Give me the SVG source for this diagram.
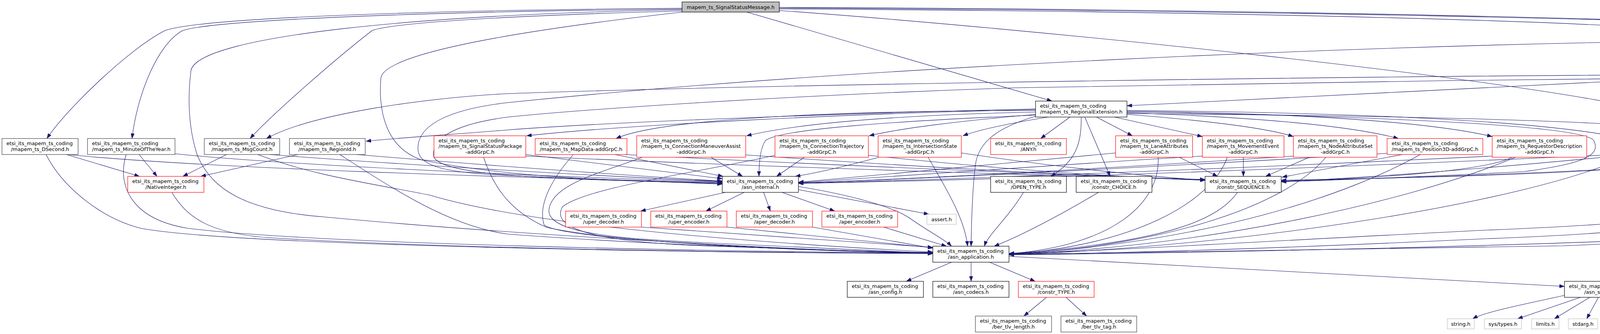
<svg xmlns="http://www.w3.org/2000/svg" width="5065" height="856" viewBox="0 0 5065 856">
<style>
text{font-family:"DejaVu Sans","Liberation Sans",sans-serif;font-size:13px;fill:#000}
.m{text-anchor:middle}
rect{fill:#fff;stroke-width:1.2}
.b{stroke:#000}
.r{stroke:#ff0000}
.g{stroke:#404040}
.l{stroke:#bfbfbf}
.root{fill:#bfbfbf;stroke:#000}
#edges path{fill:none;stroke:#191970;stroke-width:1.1;marker-end:url(#a)}
</style>
<defs>
<marker id="a" viewBox="0 0 13 9.4" refX="13" refY="4.7" markerWidth="13" markerHeight="9.4" markerUnits="userSpaceOnUse" orient="auto">
<path d="M0,0 L13,4.7 L0,9.4 z" fill="#191970" stroke="#191970" stroke-width="0.5"/>
</marker>
</defs>
<rect x="0" y="0" width="5065" height="856" style="fill:#fff;stroke:none"/>
<g id="edges">
<path d="M1746,21 C1100,26 520,45 423,78 C330,125 170,280 120,355"/>
<path d="M1746,23 C1100,30 560,50 468,78 C400,115 350,250 338,355"/>
<path d="M1746,25 C1100,36 510,90 489,180 C480,250 482,330 506,400 C540,480 620,540 830,556 C1300,600 2000,640 2388,650"/>
<path d="M1746,28 C1300,40 1010,58 953,78 C860,150 700,290 640,355"/>
<path d="M1746,31 C1400,70 985,130 975,200 C968,290 990,380 1080,410 C1300,455 1600,465 1849,470"/>
<path d="M1912,31 L2693,259"/>
<path d="M1995,23 C3000,28 4100,50 4440,88"/>
<path d="M1995,19 C3000,22 4500,48 4663,78 C4720,110 4738,200 4741,259"/>
<path d="M1995,21 C3000,24 4600,52 4703,80 C4800,130 4900,210 4937,259"/>
<path d="M1995,27 C2600,70 3900,200 4250,290 C4410,335 4420,400 4300,420 C4000,450 3500,458 3280,462"/>
<path d="M4532,121 L4494,169"/>
<path d="M4572,121 L4716,259"/>
<path d="M4595,121 L4913,259"/>
<path d="M4590,121 C4605,220 4610,330 4609,440 C4608,540 4400,590 3800,612 C3200,640 2800,650 2583,652"/>
<path d="M4440,103 C3500,115 2200,170 1300,263 C1150,280 1070,320 1070,380 C1070,430 1150,442 1300,450 C1600,463 1750,468 1849,472"/>
<path d="M4377,196 C4000,215 3300,250 2885,271"/>
<path d="M4377,191 C3500,195 2000,215 1300,240 C1100,250 800,290 682,355"/>
<path d="M4534,210 L4683,259"/>
<path d="M4572,209 L4865,262"/>
<path d="M4478,210 C4480,300 4470,390 4400,410 C4200,440 3500,458 3280,464"/>
<path d="M4490,210 C4540,300 4558,380 4558,470 C4558,540 4300,570 3800,590 C3200,620 2800,645 2583,650"/>
<path d="M4377,199 C3800,205 3000,215 2600,225 C2000,245 1500,280 1300,300 C1150,320 1105,360 1110,400 C1120,440 1300,452 1500,460 C1700,466 1800,469 1849,469"/>
<path d="M2651,279 C2200,290 1600,310 1300,333 C1150,345 1000,355 937,362"/>
<path d="M2651,281 C2200,290 1600,320 1348,348"/>
<path d="M2651,283 C2200,284 1700,300 1577,355"/>
<path d="M2651,287 C2300,295 2050,315 1911,348"/>
<path d="M2655,293 C2450,310 2300,330 2225,348"/>
<path d="M2683,300 C2560,320 2500,335 2465,348"/>
<path d="M2739,300 L2664,355"/>
<path d="M2768,300 C2768,360 2760,410 2690,452"/>
<path d="M2777,300 L2842,452"/>
<path d="M2807,300 L2899,348"/>
<path d="M2853,300 L3078,350"/>
<path d="M2885,293 C3100,310 3250,330 3311,350"/>
<path d="M2885,289 C3200,300 3450,320 3580,355"/>
<path d="M2885,285 C3300,290 3650,310 3820,350"/>
<path d="M2885,283 C3400,288 3900,305 4137,350"/>
<path d="M2885,291 C3600,296 4300,312 4370,345 C4430,380 4435,500 4417,631"/>
<path d="M2885,287 C3500,297 4050,320 4080,360 C4100,400 4050,420 3900,440 C3600,455 3400,462 3280,466"/>
<path d="M2651,295 C2300,310 2000,330 1960,360 C1945,380 1943,420 1943,452"/>
<path d="M2651,298 C2560,325 2505,360 2497,423 C2490,480 2487,560 2486,631"/>
<path d="M170,396 L357,452"/>
<path d="M118,396 C160,480 260,560 360,585 C600,630 1800,648 2388,650"/>
<path d="M174,396 C500,430 1300,455 1849,468"/>
<path d="M356,396 L402,452"/>
<path d="M323,396 C300,470 330,560 480,585 C800,625 1800,645 2388,648"/>
<path d="M448,394 C700,420 1300,450 1849,466"/>
<path d="M580,396 L468,452"/>
<path d="M660,396 C800,450 950,470 1100,500 C1300,560 1700,610 2388,646"/>
<path d="M690,396 C1000,420 1500,450 1849,465"/>
<path d="M763,396 L514,452"/>
<path d="M870,396 C1000,480 1150,580 1300,600 C1700,630 2200,645 2388,647"/>
<path d="M912,396 C1200,420 1600,450 1849,464"/>
<path d="M440,493 C480,560 540,600 700,610 C1200,640 2000,648 2388,649"/>
<path d="M1346,396 C1550,420 1750,445 1849,458"/>
<path d="M1238,403 C1260,470 1300,540 1400,583 C1600,625 2100,645 2388,648"/>
<path d="M1346,400 C2000,430 2700,450 3085,460"/>
<path d="M1574,396 L1851,452"/>
<path d="M1467,397 C1420,450 1375,520 1393,577 C1450,615 2000,640 2388,648"/>
<path d="M1600,396 C2200,428 2800,450 3085,461"/>
<path d="M1820,403 L1901,452"/>
<path d="M1644,403 C1550,440 1410,470 1405,540 C1405,600 1600,612 1800,622 C2100,636 2300,645 2388,649"/>
<path d="M1909,397 C2400,432 2850,453 3085,462"/>
<path d="M2059,403 L1988,452"/>
<path d="M1984,398 C1800,440 1500,480 1440,530 C1400,600 1600,622 1800,630 C2100,641 2300,648 2388,650"/>
<path d="M2223,398 C2600,438 2900,455 3085,462"/>
<path d="M2250,403 C2150,430 2080,445 2036,452"/>
<path d="M2376,403 C2420,480 2470,560 2477,631"/>
<path d="M2461,392 C2700,428 2950,453 3085,462"/>
<path d="M2856,392 C2600,415 2300,445 2044,467"/>
<path d="M2965,403 C2970,520 2850,630 2583,650"/>
<path d="M3019,403 L3117,452"/>
<path d="M3078,400 C2700,422 2300,452 2044,468"/>
<path d="M3142,403 C3100,520 2900,630 2583,651"/>
<path d="M3183,403 L3183,452"/>
<path d="M3311,400 C2900,427 2400,456 2044,469"/>
<path d="M3394,403 C3300,520 3000,630 2583,651"/>
<path d="M3352,403 L3240,452"/>
<path d="M3551,393 C3000,425 2400,457 2044,469"/>
<path d="M3636,396 C3450,500 3100,620 2583,652"/>
<path d="M3590,396 L3282,454"/>
<path d="M3820,400 C3200,430 2500,458 2044,470"/>
<path d="M3880,403 C3600,520 3100,630 2583,652"/>
<path d="M3871,403 C3800,440 3500,458 3280,464"/>
<path d="M4137,396 C3400,430 2600,460 2044,470"/>
<path d="M4161,403 C3900,520 3200,630 2583,653"/>
<path d="M4137,400 C3800,432 3500,456 3280,465"/>
<path d="M3168,493 C3120,560 3000,620 2583,650"/>
<path d="M2620,493 C2580,560 2530,600 2520,631"/>
<path d="M2812,493 C2700,560 2600,610 2545,631"/>
<path d="M4754,300 L4780,355"/>
<path d="M4722,300 C4680,360 4667,450 4667,500 C4660,580 4500,610 4000,630 C3300,645 2800,650 2583,652"/>
<path d="M4821,396 L4893,452"/>
<path d="M4790,396 C4780,480 4740,560 4670,585 C4400,620 3300,645 2583,653"/>
<path d="M4958,300 L4925,452"/>
<path d="M1857,493 L1640,541"/>
<path d="M1905,493 L1807,541"/>
<path d="M1955,493 L1972,541"/>
<path d="M2002,493 L2137,541"/>
<path d="M2044,486 L2378,549"/>
<path d="M2044,478 C2150,495 2280,525 2330,560 C2380,595 2420,615 2436,631"/>
<path d="M1642,582 L2388,634"/>
<path d="M1861,582 L2388,635"/>
<path d="M2080,582 L2388,636"/>
<path d="M2262,582 L2423,631"/>
<path d="M2436,672 L2320,721"/>
<path d="M2486,672 L2486,721"/>
<path d="M2533,672 L2650,721"/>
<path d="M2583,657 L4005,734"/>
<path d="M2679,762 L2621,810"/>
<path d="M2729,762 L2782,810"/>
<path d="M4341,672 L4175,721"/>
<path d="M4005,757 C3900,780 3800,800 3770,817"/>
<path d="M4046,762 L3885,817"/>
<path d="M4070,762 L3979,817"/>
<path d="M4092,762 L4062,817"/>
<path d="M4113,762 L4143,817"/>
<path d="M4135,762 L4233,817"/>
<path d="M4167,762 L4332,817"/>
<path d="M4199,760 C4300,790 4380,800 4425,817"/>
</g>
<g id="root"><rect class="root" x="1746" y="5" width="249" height="26"/><text class="m" x="1870.5" y="22.5">mapem_ts_SignalStatusMessage.h</text></g>
<g id="ssl"><rect class="b" x="4440" y="80" width="218" height="41"/><text x="4451.5" y="97">etsi_its_mapem_ts_coding</text><text class="m" x="4549" y="111.5">/mapem_ts_SignalStatusList.h</text></g>
<g id="ss"><rect class="r" x="4377" y="169" width="195" height="41"/><text x="4388.5" y="186">etsi_its_mapem_ts_coding</text><text class="m" x="4474.5" y="200.5">/mapem_ts_SignalStatus.h</text></g>
<g id="re"><rect class="b" x="2651" y="259" width="234" height="41"/><text x="2662.5" y="276">etsi_its_mapem_ts_coding</text><text class="m" x="2768" y="290.5">/mapem_ts_RegionalExtension.h</text></g>
<g id="cso"><rect class="b" x="4646" y="259" width="195" height="41"/><text x="4657.5" y="276">etsi_its_mapem_ts_coding</text><text class="m" x="4743.5" y="290.5">/constr_SEQUENCE_OF.h</text></g>
<g id="aso"><rect class="b" x="4865" y="259" width="195" height="41"/><text x="4876.5" y="276">etsi_its_mapem_ts_coding</text><text class="m" x="4962.5" y="290.5">/asn_SEQUENCE_OF.h</text></g>
<g id="ds"><rect class="g" x="5" y="355" width="195" height="41"/><text x="16.5" y="372">etsi_its_mapem_ts_coding</text><text class="m" x="102.5" y="386.5">/mapem_ts_DSecond.h</text></g>
<g id="moy"><rect class="g" x="224" y="355" width="224" height="41"/><text x="235.5" y="372">etsi_its_mapem_ts_coding</text><text class="m" x="336" y="386.5">/mapem_ts_MinuteOfTheYear.h</text></g>
<g id="mc"><rect class="g" x="523" y="355" width="193" height="41"/><text x="534.5" y="372">etsi_its_mapem_ts_coding</text><text class="m" x="619.5" y="386.5">/mapem_ts_MsgCount.h</text></g>
<g id="ri"><rect class="g" x="741" y="355" width="194" height="41"/><text x="752.5" y="372">etsi_its_mapem_ts_coding</text><text class="m" x="838" y="386.5">/mapem_ts_RegionId.h</text></g>
<g id="ssp"><rect class="r" x="1111" y="348" width="235" height="55"/><text x="1122.5" y="364.5">etsi_its_mapem_ts_coding</text><text x="1122.5" y="379">/mapem_ts_SignalStatusPackage</text><text class="m" x="1228.5" y="393.5">-addGrpC.h</text></g>
<g id="md"><rect class="r" x="1370" y="355" width="235" height="41"/><text x="1381.5" y="372">etsi_its_mapem_ts_coding</text><text class="m" x="1487.5" y="386.5">/mapem_ts_MapData-addGrpC.h</text></g>
<g id="cma"><rect class="r" x="1630" y="348" width="279" height="55"/><text x="1641.5" y="364.5">etsi_its_mapem_ts_coding</text><text x="1641.5" y="379">/mapem_ts_ConnectionManeuverAssist</text><text class="m" x="1769.5" y="393.5">-addGrpC.h</text></g>
<g id="ct"><rect class="r" x="1984" y="348" width="239" height="55"/><text x="1995.5" y="364.5">etsi_its_mapem_ts_coding</text><text x="1995.5" y="379">/mapem_ts_ConnectionTrajectory</text><text class="m" x="2103.5" y="393.5">-addGrpC.h</text></g>
<g id="is"><rect class="r" x="2248" y="348" width="213" height="55"/><text x="2259.5" y="364.5">etsi_its_mapem_ts_coding</text><text x="2259.5" y="379">/mapem_ts_IntersectionState</text><text class="m" x="2354.5" y="393.5">-addGrpC.h</text></g>
<g id="any"><rect class="r" x="2536" y="355" width="194" height="41"/><text x="2547.5" y="372">etsi_its_mapem_ts_coding</text><text class="m" x="2633" y="386.5">/ANY.h</text></g>
<g id="la"><rect class="r" x="2856" y="348" width="197" height="55"/><text x="2867.5" y="364.5">etsi_its_mapem_ts_coding</text><text x="2867.5" y="379">/mapem_ts_LaneAttributes</text><text class="m" x="2954.5" y="393.5">-addGrpC.h</text></g>
<g id="me"><rect class="r" x="3078" y="348" width="209" height="55"/><text x="3089.5" y="364.5">etsi_its_mapem_ts_coding</text><text x="3089.5" y="379">/mapem_ts_MovementEvent</text><text class="m" x="3182.5" y="393.5">-addGrpC.h</text></g>
<g id="nas"><rect class="r" x="3311" y="348" width="214" height="55"/><text x="3322.5" y="364.5">etsi_its_mapem_ts_coding</text><text x="3322.5" y="379">/mapem_ts_NodeAttributeSet</text><text class="m" x="3418" y="393.5">-addGrpC.h</text></g>
<g id="p3d"><rect class="r" x="3551" y="355" width="245" height="41"/><text x="3562.5" y="372">etsi_its_mapem_ts_coding</text><text class="m" x="3673.5" y="386.5">/mapem_ts_Position3D-addGrpC.h</text></g>
<g id="rd"><rect class="r" x="3820" y="348" width="242" height="55"/><text x="3831.5" y="364.5">etsi_its_mapem_ts_coding</text><text x="3831.5" y="379">/mapem_ts_RequestorDescription</text><text class="m" x="3941" y="393.5">-addGrpC.h</text></g>
<g id="rut"><rect class="r" x="4137" y="348" width="233" height="55"/><text x="4148.5" y="364.5">etsi_its_mapem_ts_coding</text><text x="4148.5" y="379">/mapem_ts_RestrictionUserType</text><text class="m" x="4253.5" y="393.5">-addGrpC.h</text></g>
<g id="cset"><rect class="g" x="4697" y="355" width="195" height="41"/><text x="4708.5" y="372">etsi_its_mapem_ts_coding</text><text class="m" x="4794.5" y="386.5">/constr_SET_OF.h</text></g>
<g id="ni"><rect class="r" x="327" y="452" width="195" height="41"/><text x="338.5" y="469">etsi_its_mapem_ts_coding</text><text class="m" x="424.5" y="483.5">/NativeInteger.h</text></g>
<g id="ai"><rect class="b" x="1849" y="452" width="195" height="41"/><text x="1860.5" y="469">etsi_its_mapem_ts_coding</text><text class="m" x="1946.5" y="483.5">/asn_internal.h</text></g>
<g id="ot"><rect class="b" x="2536" y="452" width="194" height="41"/><text x="2547.5" y="469">etsi_its_mapem_ts_coding</text><text class="m" x="2633" y="483.5">/OPEN_TYPE.h</text></g>
<g id="cc"><rect class="b" x="2755" y="452" width="194" height="41"/><text x="2766.5" y="469">etsi_its_mapem_ts_coding</text><text class="m" x="2852" y="483.5">/constr_CHOICE.h</text></g>
<g id="cs"><rect class="b" x="3085" y="452" width="195" height="41"/><text x="3096.5" y="469">etsi_its_mapem_ts_coding</text><text class="m" x="3182.5" y="483.5">/constr_SEQUENCE.h</text></g>
<g id="aset"><rect class="b" x="4823" y="452" width="194" height="41"/><text x="4834.5" y="469">etsi_its_mapem_ts_coding</text><text class="m" x="4920" y="483.5">/asn_SET_OF.h</text></g>
<g id="ud"><rect class="r" x="1448" y="541" width="194" height="41"/><text x="1459.5" y="558">etsi_its_mapem_ts_coding</text><text class="m" x="1545" y="572.5">/uper_decoder.h</text></g>
<g id="ue"><rect class="r" x="1666" y="541" width="195" height="41"/><text x="1677.5" y="558">etsi_its_mapem_ts_coding</text><text class="m" x="1763.5" y="572.5">/uper_encoder.h</text></g>
<g id="ad"><rect class="r" x="1885" y="541" width="195" height="41"/><text x="1896.5" y="558">etsi_its_mapem_ts_coding</text><text class="m" x="1982.5" y="572.5">/aper_decoder.h</text></g>
<g id="ae"><rect class="r" x="2104" y="541" width="194" height="41"/><text x="2115.5" y="558">etsi_its_mapem_ts_coding</text><text class="m" x="2201" y="572.5">/aper_encoder.h</text></g>
<g id="assert"><rect class="l" x="2373" y="549" width="75" height="26"/><text class="m" x="2410.5" y="566.5">assert.h</text></g>
<g id="aa"><rect class="b" x="2388" y="631" width="195" height="41"/><text x="2399.5" y="648">etsi_its_mapem_ts_coding</text><text class="m" x="2485.5" y="662.5">/asn_application.h</text></g>
<g id="ioc"><rect class="b" x="4311" y="631" width="193" height="41"/><text x="4322.5" y="648">etsi_its_mapem_ts_coding</text><text class="m" x="4407.5" y="662.5">/asn_ioc.h</text></g>
<g id="cfg"><rect class="b" x="2169" y="721" width="195" height="41"/><text x="2180.5" y="738">etsi_its_mapem_ts_coding</text><text class="m" x="2266.5" y="752.5">/asn_config.h</text></g>
<g id="codecs"><rect class="b" x="2388" y="721" width="195" height="41"/><text x="2399.5" y="738">etsi_its_mapem_ts_coding</text><text class="m" x="2485.5" y="752.5">/asn_codecs.h</text></g>
<g id="ctype"><rect class="r" x="2607" y="721" width="194" height="41"/><text x="2618.5" y="738">etsi_its_mapem_ts_coding</text><text class="m" x="2704" y="752.5">/constr_TYPE.h</text></g>
<g id="sys"><rect class="b" x="4005" y="721" width="194" height="41"/><text x="4016.5" y="738">etsi_its_mapem_ts_coding</text><text class="m" x="4102" y="752.5">/asn_system.h</text></g>
<g id="btl"><rect class="g" x="2497" y="810" width="195" height="41"/><text x="2508.5" y="827">etsi_its_mapem_ts_coding</text><text class="m" x="2594.5" y="841.5">/ber_tlv_length.h</text></g>
<g id="btt"><rect class="g" x="2716" y="810" width="194" height="41"/><text x="2727.5" y="827">etsi_its_mapem_ts_coding</text><text class="m" x="2813" y="841.5">/ber_tlv_tag.h</text></g>
<g id="string"><rect class="l" x="3705" y="817" width="69" height="26"/><text class="m" x="3739.5" y="834.5">string.h</text></g>
<g id="systypes"><rect class="l" x="3800" y="817" width="95" height="26"/><text class="m" x="3847.5" y="834.5">sys/types.h</text></g>
<g id="limits"><rect class="l" x="3921" y="817" width="70" height="26"/><text class="m" x="3956" y="834.5">limits.h</text></g>
<g id="stdarg"><rect class="l" x="4015" y="817" width="75" height="26"/><text class="m" x="4052.5" y="834.5">stdarg.h</text></g>
<g id="stddef"><rect class="l" x="4115" y="817" width="74" height="26"/><text class="m" x="4152" y="834.5">stddef.h</text></g>
<g id="inttypes"><rect class="l" x="4214" y="817" width="86" height="26"/><text class="m" x="4257" y="834.5">inttypes.h</text></g>
<g id="stdio"><rect class="l" x="4325" y="817" width="67" height="26"/><text class="m" x="4358.5" y="834.5">stdio.h</text></g>
<g id="stdlib"><rect class="l" x="4416" y="817" width="71" height="26"/><text class="m" x="4451.5" y="834.5">stdlib.h</text></g>
</svg>
